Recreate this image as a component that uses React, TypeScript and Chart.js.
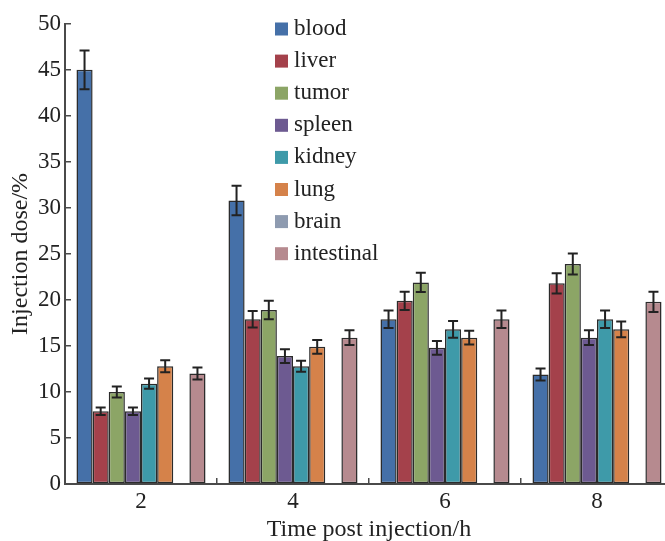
import React, { useEffect, useRef } from "react";
import { Chart, registerables } from "chart.js";

Chart.register(...registerables);

// ---- data ----
const categories = ["2", "4", "6", "8"];
const seriesNames = ["blood", "liver", "tumor", "spleen", "kidney", "lung", "brain", "intestinal"];

const blood = [45, 30.8, 17.9, 11.9];
const liver = [7.9, 17.9, 19.9, 21.8];
const tumor = [10, 18.9, 21.9, 23.9];
const spleen = [7.9, 13.9, 14.8, 15.9];
const kidney = [10.9, 12.8, 16.8, 17.9];
const lung = [12.8, 14.9, 15.9, 16.8];
const brain: (number | null)[] = [null, null, null, null];
const intestinal = [12, 15.9, 17.9, 19.8];

const bloodErr = [2.1, 1.6, 0.95, 0.65];
const liverErr = [0.4, 0.9, 1.0, 1.1];
const tumorErr = [0.6, 1.0, 1.05, 1.15];
const spleenErr = [0.4, 0.75, 0.75, 0.8];
const kidneyErr = [0.55, 0.6, 0.9, 0.95];
const lungErr = [0.65, 0.75, 0.75, 0.85];
const brainErr: (number | null)[] = [null, null, null, null];
const intestinalErr = [0.65, 0.8, 0.95, 1.1];

const yMin = 0;
const yMax = 50;
const yStep = 5;

const colors = ["#4570a8", "#a4414b", "#8ca566", "#6d5a91", "#3e9aa9", "#d5824a", "#8e9bb0", "#b68a8f"];

const FONT = "'Liberation Serif', 'Times New Roman', serif";
const TEXT = "#222222";
const AXIS = "#4a4a4a";

const values = [blood, liver, tumor, spleen, kidney, lung, brain, intestinal];
const errors = [bloodErr, liverErr, tumorErr, spleenErr, kidneyErr, lungErr, brainErr, intestinalErr];

const errorBarPlugin = {
  id: "errorBars",
  afterDatasetsDraw(chart: any) {
    const ctx = chart.ctx;
    const yScale = chart.scales.y;
    ctx.save();
    ctx.strokeStyle = "#222222";
    ctx.lineWidth = 2;
    chart.data.datasets.forEach((ds: any, i: number) => {
      const meta = chart.getDatasetMeta(i);
      if (meta.hidden) return;
      meta.data.forEach((el: any, j: number) => {
        const v = ds.data[j];
        const e = ds.errors ? ds.errors[j] : null;
        if (v == null || e == null) return;
        const x = el.x;
        const yt = yScale.getPixelForValue(v + e);
        const yb = yScale.getPixelForValue(v - e);
        const cap = 5;
        ctx.beginPath();
        ctx.moveTo(x, yt);
        ctx.lineTo(x, yb);
        ctx.moveTo(x - cap, yt);
        ctx.lineTo(x + cap, yt);
        ctx.moveTo(x - cap, yb);
        ctx.lineTo(x + cap, yb);
        ctx.stroke();
      });
    });
    ctx.restore();
  },
};

const innerLegendPlugin = {
  id: "innerLegend",
  afterDraw(chart: any) {
    const ctx = chart.ctx;
    ctx.save();
    ctx.font = `23px ${FONT}`;
    ctx.textBaseline = "middle";
    ctx.textAlign = "left";
    const x0 = 275;
    const y0 = 29;
    const step = 32.1;
    chart.data.datasets.forEach((ds: any, i: number) => {
      const cy = y0 + i * step;
      ctx.fillStyle = ds.backgroundColor;
      ctx.fillRect(x0, cy - 6.5, 13, 13);
      ctx.fillStyle = TEXT;
      ctx.fillText(ds.label, x0 + 19, cy);
    });
    ctx.restore();
  },
};

export default function App() {
  const ref = useRef<HTMLCanvasElement | null>(null);

  useEffect(() => {
    if (!ref.current) return;
    const chart = new Chart(ref.current, {
      type: "bar",
      data: {
        labels: categories,
        datasets: seriesNames.map((name, i) => ({
          label: name,
          data: values[i],
          errors: errors[i],
          backgroundColor: colors[i],
          borderColor: "#2b2b2b",
          borderWidth: 1.5,
          borderSkipped: false,
          categoryPercentage: 0.849,
          barPercentage: 1,
        })) as any,
      },
      options: {
        responsive: false,
        animation: false,
        layout: { padding: { top: 22, right: 7, left: 0, bottom: 0 } },
        plugins: {
          legend: { display: false },
          tooltip: { enabled: false },
        },
        scales: {
          x: {
            grid: {
              offset: true,
              drawOnChartArea: false,
              tickLength: -6,
              color: AXIS,
              lineWidth: 1.5,
            },
            border: { color: AXIS, width: 2 },
            ticks: {
              color: TEXT,
              font: { family: FONT, size: 23 },
              padding: 10,
            },
            title: {
              display: true,
              text: "Time post injection/h",
              color: TEXT,
              font: { family: FONT, size: 24 },
              padding: { top: 0, bottom: 1 },
            },
            afterFit(scale: any) {
              scale.height = 61;
            },
          },
          y: {
            min: yMin,
            max: yMax,
            ticks: {
              stepSize: yStep,
              color: TEXT,
              font: { family: FONT, size: 23 },
              padding: 10,
            },
            grid: {
              drawOnChartArea: false,
              tickLength: -6,
              color: AXIS,
              lineWidth: 1.5,
            },
            border: { color: AXIS, width: 2 },
            title: {
              display: true,
              text: "Injection dose/%",
              color: TEXT,
              font: { family: FONT, size: 24 },
              padding: { top: 6, bottom: 0 },
            },
            afterFit(scale: any) {
              scale.width = 65;
            },
          },
        },
      } as any,
      plugins: [errorBarPlugin, innerLegendPlugin],
    });
    return () => chart.destroy();
  }, []);

  return (
    <div
      style={{
        position: "fixed",
        left: 0,
        top: 0,
        width: 665,
        height: 541,
        overflow: "hidden",
        background: "#ffffff",
      }}
    >
      <canvas ref={ref} width={680} height={545} style={{ display: "block" }} />
    </div>
  );
}
